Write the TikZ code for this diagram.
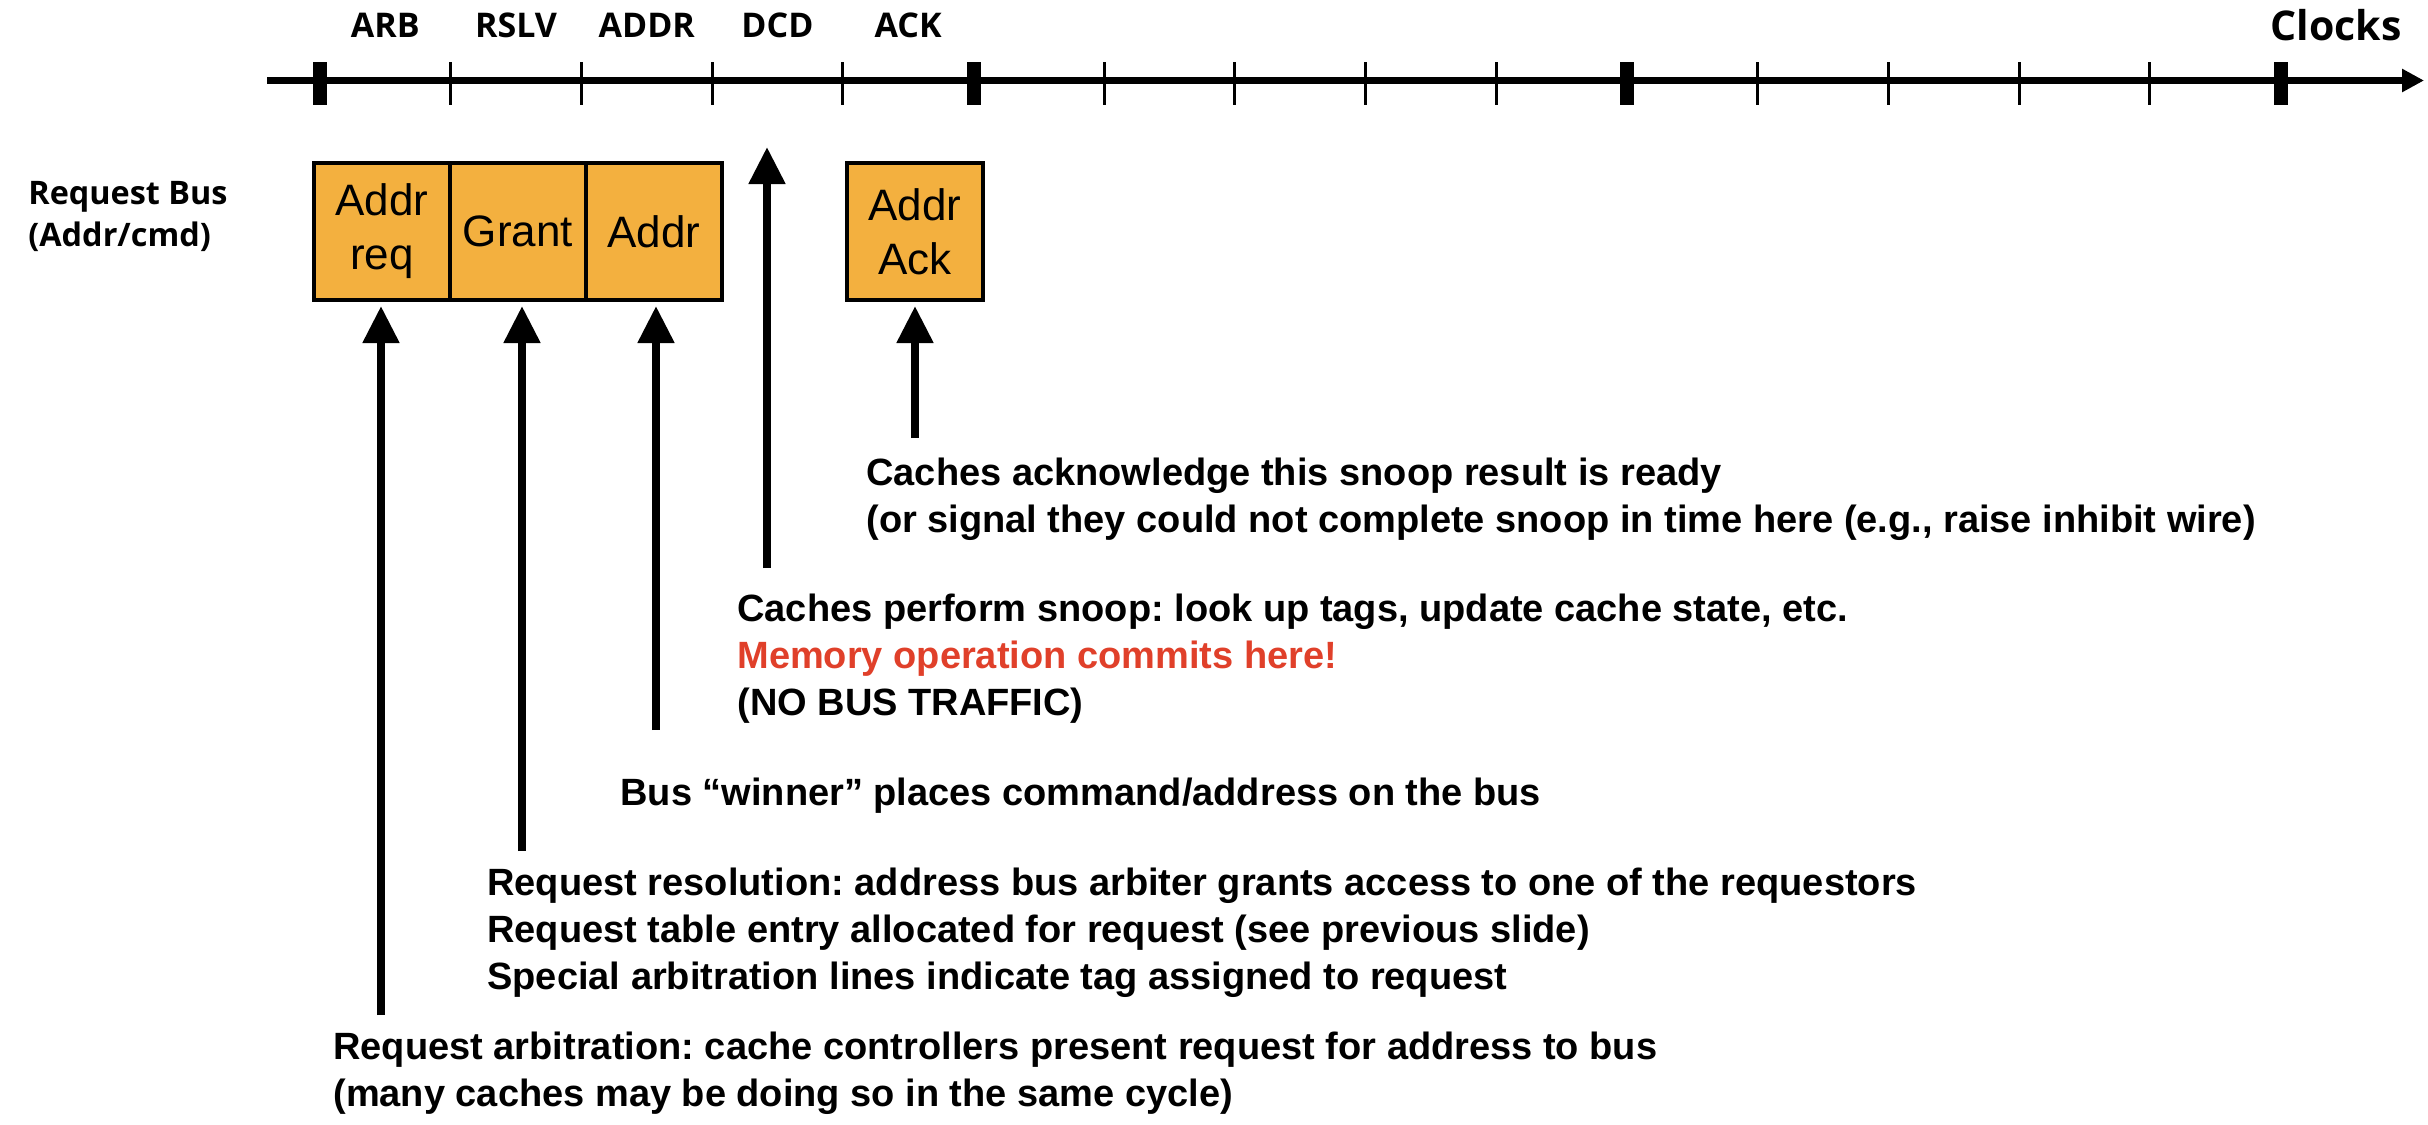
\documentclass[tikz,border=0pt]{standalone}
\usepackage{fontspec}
\setmainfont{Liberation Sans}
\newfontfamily\lblfont{Open Sans}
\usetikzlibrary{arrows.meta,positioning}
\frenchspacing

\definecolor{busorange}{HTML}{F3B03F}
\definecolor{memred}{HTML}{E0402A}

\tikzset{
  cyclelbl/.style={font=\lblfont\bfseries\fontsize{17}{20}\selectfont, anchor=base, inner sep=0pt},
  busbox/.style={draw, fill=busorange, line width=2pt, minimum width=68pt, minimum height=68.5pt,
    inner sep=0pt, outer sep=0pt, align=center, font=\fontsize{22}{27}\selectfont},
  note/.style={anchor=west, inner sep=0pt, align=left, font=\bfseries\fontsize{19}{23.5}\selectfont},
  bigarrow/.style={line width=4pt, -{Triangle[length=18.5pt,width=17.5pt]}, shorten >=3pt},
}

\begin{document}
\begin{tikzpicture}[x=0.5pt,y=-0.5pt]
  \useasboundingbox (0,0) rectangle (2428,1124);

  % clock axis
  \draw[line width=3.5pt,-{Triangle[length=11pt,width=11pt]}] (267,80.5) -- (2424,80.5);
  \foreach \k in {1,2,3,4,6,7,8,9,11,12,13,14}
    \draw[line width=1.5pt] ({320+130.7*\k},62) -- ({320+130.7*\k},105);
  \foreach \k in {0,5,10,15}
    \draw[line width=7pt] ({320+130.7*\k},62) -- ({320+130.7*\k},105);

  \foreach \lbl [count=\i] in {ARB,RSLV,ADDR,DCD,ACK}
    \node[cyclelbl] (cyc\i) at ({320+130.7*(\i-0.5)},37) {\lbl};
  \node[cyclelbl, anchor=base east, font=\lblfont\bfseries\fontsize{20.5}{24}\selectfont] (clocks) at (2402,40) {Clocks};

  \node[cyclelbl, anchor=west, align=left, font=\lblfont\bfseries\fontsize{16.2}{21}\selectfont] (reqbus) at (28,216) {Request Bus\\(Addr/cmd)};

  % bus boxes
  \node[busbox] (req) at (382,231.5) {Addr\\req};
  \node[busbox, right=0pt of req] (grant) {Grant};
  \node[busbox, right=0pt of grant] (addr) {Addr};
  \node[busbox] (ack) at (915,231.5) {Addr\\Ack};

  % notes
  \node[note] (acknote) at (866,499) {Caches acknowledge this snoop result is ready\\(or signal they could not complete snoop in time here (e.g., raise inhibit wire)};
  \node[note] (dcdnote) at (737,659) {Caches perform snoop: look up tags, update cache state, etc.\\\textcolor{memred}{Memory operation commits here!}\\(NO BUS TRAFFIC)};
  \node[note] (addrnote) at (620,796) {Bus “winner” places command/address on the bus};
  \node[note] (rslvnote) at (487,933) {Request resolution: address bus arbiter grants access to one of the requestors\\Request table entry allocated for request (see previous slide)\\Special arbitration lines indicate tag assigned to request};
  \node[note] (arbnote) at (333,1073) {Request arbitration: cache controllers present request for address to bus\\(many caches may be doing so in the same cycle)};

  % arrows
  \coordinate (arbfoot) at (381,1015);
  \coordinate (rslvfoot) at (522,851);
  \coordinate (addrfoot) at (656,730);
  \coordinate (dcdfoot) at (767,568);
  \coordinate (dcdtip) at (767,147);
  \coordinate (ackfoot) at (915,438);
  \draw[bigarrow] (arbfoot) -- (arbfoot |- req.south);
  \draw[bigarrow] (rslvfoot) -- (rslvfoot |- grant.south);
  \draw[bigarrow] (addrfoot) -- (addrfoot |- addr.south);
  \draw[bigarrow, shorten >=0pt] (dcdfoot) -- (dcdtip);
  \draw[bigarrow] (ackfoot) -- (ackfoot |- ack.south);
\end{tikzpicture}
\end{document}
